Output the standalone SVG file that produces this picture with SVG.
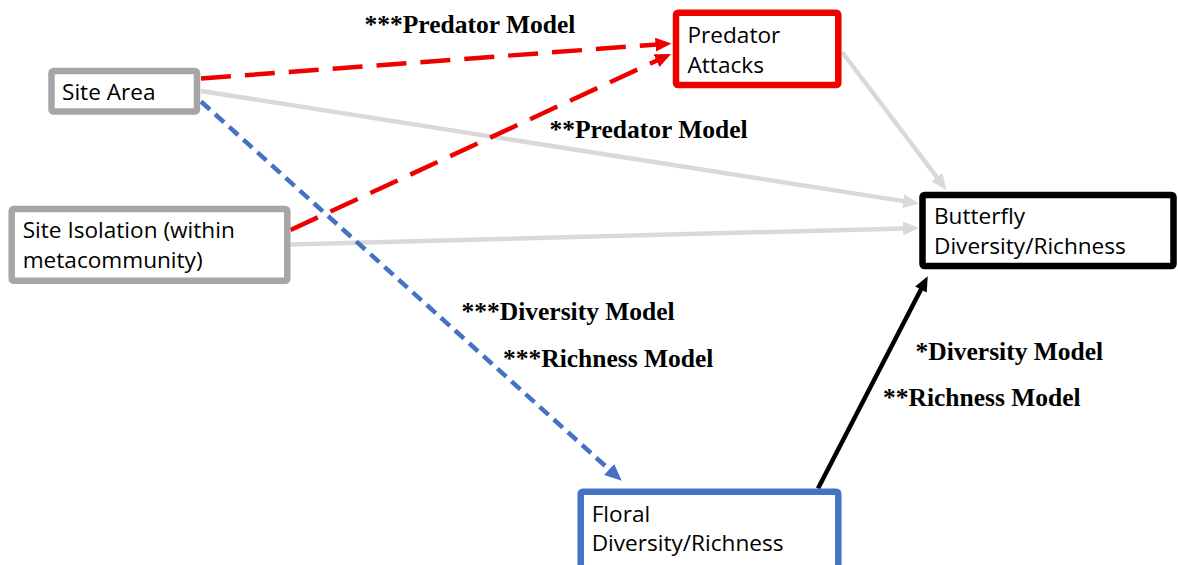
<svg xmlns="http://www.w3.org/2000/svg" width="1178" height="565" viewBox="0 0 1178 565">
<style>
.node{fill:#fff;stroke-width:6.5}
.nt{font-family:"Open Sans","Liberation Sans",sans-serif;font-size:22.6px;fill:#000}
.lbl{font-family:"Liberation Serif","Times New Roman",serif;font-size:25.5px;font-weight:bold;fill:#000}
.c{fill:none;stroke-width:4.5}
</style>
<defs>
<marker id="ar" viewBox="0 0 16 14" refX="10" refY="7" markerWidth="16" markerHeight="14" markerUnits="userSpaceOnUse" orient="auto"><path d="M0,0 L16,7 L0,14 z" fill="#ee0000"/></marker>
<marker id="ab" viewBox="0 0 16 14" refX="10" refY="7" markerWidth="17" markerHeight="15" markerUnits="userSpaceOnUse" orient="auto"><path d="M0,0 L16,7 L0,14 z" fill="#4472c4"/></marker>
<marker id="ag" viewBox="0 0 16 14" refX="10" refY="7" markerWidth="16" markerHeight="14" markerUnits="userSpaceOnUse" orient="auto"><path d="M0,0 L16,7 L0,14 z" fill="#d9d9d9"/></marker>
<marker id="ak" viewBox="0 0 16 14" refX="10" refY="7" markerWidth="16" markerHeight="13" markerUnits="userSpaceOnUse" orient="auto"><path d="M0,0 L16,7 L0,14 z" fill="#000"/></marker>
</defs>
<g id="connectors">
<line class="c" x1="201" y1="91" x2="913.1" y2="202.6" stroke="#d9d9d9" marker-end="url(#ag)"/>
<line class="c" x1="842" y1="52" x2="942.9" y2="185.2" stroke="#d9d9d9" marker-end="url(#ag)"/>
<line class="c" x1="290.5" y1="244.5" x2="913" y2="228.2" stroke="#d9d9d9" marker-end="url(#ag)"/>
<line class="c" x1="201" y1="78.5" x2="665.5" y2="43.9" stroke="#ee0000" stroke-width="5" stroke-dasharray="30 14" marker-end="url(#ar)"/>
<line class="c" x1="290.5" y1="230" x2="665.6" y2="56.5" stroke="#ee0000" stroke-width="5" stroke-dasharray="30 14" marker-end="url(#ar)"/>
<line class="c" x1="201" y1="101.5" x2="617" y2="476.5" stroke="#4472c4" stroke-dasharray="12 7" marker-end="url(#ab)"/>
<line class="c" x1="818" y1="488.5" x2="925.2" y2="281.3" stroke="#000" marker-end="url(#ak)"/>
</g>
<g id="site-area">
<rect class="node" x="51.5" y="71" width="145.5" height="40.5" rx="2" stroke="#a6a6a6"/>
<text class="nt" x="62" y="100">Site Area</text>
</g>
<g id="site-isolation">
<rect class="node" x="11.7" y="209" width="275.6" height="71.7" rx="2" stroke="#a6a6a6"/>
<text class="nt" x="22.7" y="238">Site Isolation (within</text>
<text class="nt" x="22.7" y="268">metacommunity)</text>
</g>
<g id="predator-attacks">
<rect class="node" x="676" y="12.7" width="162.3" height="72.3" rx="2" stroke="#ee0000"/>
<text class="nt" x="687.5" y="43">Predator</text>
<text class="nt" x="687.5" y="73">Attacks</text>
</g>
<g id="butterfly">
<rect class="node" x="922.5" y="195" width="251" height="71" rx="2" stroke="#000"/>
<text class="nt" x="934" y="224">Butterfly</text>
<text class="nt" x="934" y="253.5">Diversity/Richness</text>
</g>
<g id="floral">
<rect class="node" x="580.7" y="491.7" width="257.6" height="80" rx="2" stroke="#4472c4"/>
<text class="nt" x="591.7" y="521.5">Floral</text>
<text class="nt" x="591.7" y="550.5">Diversity/Richness</text>
</g>
<g id="labels">
<text class="lbl" x="364.5" y="33">***Predator Model</text>
<text class="lbl" x="549.5" y="138.3">**Predator Model</text>
<text class="lbl" x="461.5" y="320">***Diversity Model</text>
<text class="lbl" x="503" y="367">***Richness Model</text>
<text class="lbl" x="915.5" y="360">*Diversity Model</text>
<text class="lbl" x="883" y="406">**Richness Model</text>
</g>
</svg>
